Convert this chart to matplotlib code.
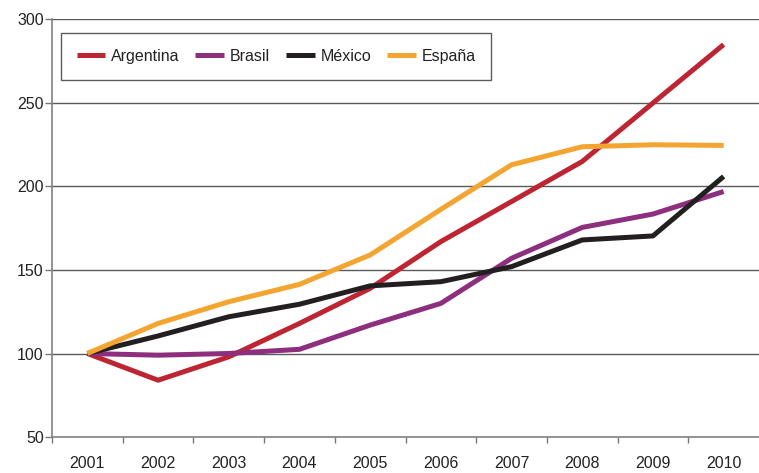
import matplotlib
matplotlib.use("Agg")
import matplotlib.pyplot as plt

plt.rcParams['font.family'] = ['Liberation Sans', 'DejaVu Sans']

years = ['2001', '2002', '2003', '2004', '2005', '2006', '2007', '2008', '2009', '2010']
argentina = [100, 84, 98, 118, 139, 167, 191, 215, 250, 285]
brasil = [100, 99, 100, 102.5, 117, 130, 157, 175.5, 183.5, 197]
mexico = [100, 110.5, 122, 129.5, 140.5, 143, 152, 168, 170.4, 206]
espana = [100, 118, 131, 141.4, 159, 186.3, 213, 223.8, 225, 224.6]
series_names = ['Argentina', 'Brasil', 'México', 'España']
colors = ['#BE2532', '#8E2E7E', '#231F20', '#F4A430']
y_ticks = [50, 100, 150, 200, 250, 300]

fig = plt.figure(figsize=(7.59, 4.73), dpi=100)
ax = fig.add_axes([52/759, 1-437/473, 1-52/759, (437-19.5)/473])

x = list(range(1, len(years)+1))
for vals, name, c in zip([argentina, brasil, mexico, espana], series_names, colors):
    ax.plot(x, vals, color=c, lw=3.6, label=name, solid_capstyle='butt', solid_joinstyle='round', zorder=3)

ax.set_xlim(0.5, len(years)+0.5)
ax.set_ylim(50, 300)
ax.set_yticks(y_ticks)
ax.set_yticklabels([str(t) for t in y_ticks])
ax.set_xticks(x)
ax.set_xticklabels(years)
ax.set_xticks([i+0.5 for i in range(0, len(years))], minor=True)
ax.tick_params(axis='x', which='major', length=0, pad=14, labelsize=11.5, colors='#222222')
ax.tick_params(axis='x', which='minor', length=4, width=1, color='#777777', direction='out')
ax.tick_params(axis='y', length=5, width=1, color='#777777', pad=1, labelsize=11.5, labelcolor='#222222')

for yv in y_ticks[1:]:
    ax.axhline(yv, color='#5a5a5a', lw=1, zorder=1)

for s in ['top', 'right']:
    ax.spines[s].set_visible(False)
for s in ['left', 'bottom']:
    ax.spines[s].set_color('#808080')
    ax.spines[s].set_linewidth(1.2)

leg = ax.legend(loc='upper left', bbox_to_anchor=((60.7-52)/707, 1-(33-19.5)/417.5), ncol=4,
                frameon=True, fancybox=False, edgecolor='#333333', fontsize=11.5,
                handlelength=1.8, handletextpad=0.35, columnspacing=1.0,
                borderpad=1.0, borderaxespad=0)
leg.get_frame().set_linewidth(1.0)
for t in leg.get_texts():
    t.set_color('#222222')

fig.savefig('out.png', dpi=100)
